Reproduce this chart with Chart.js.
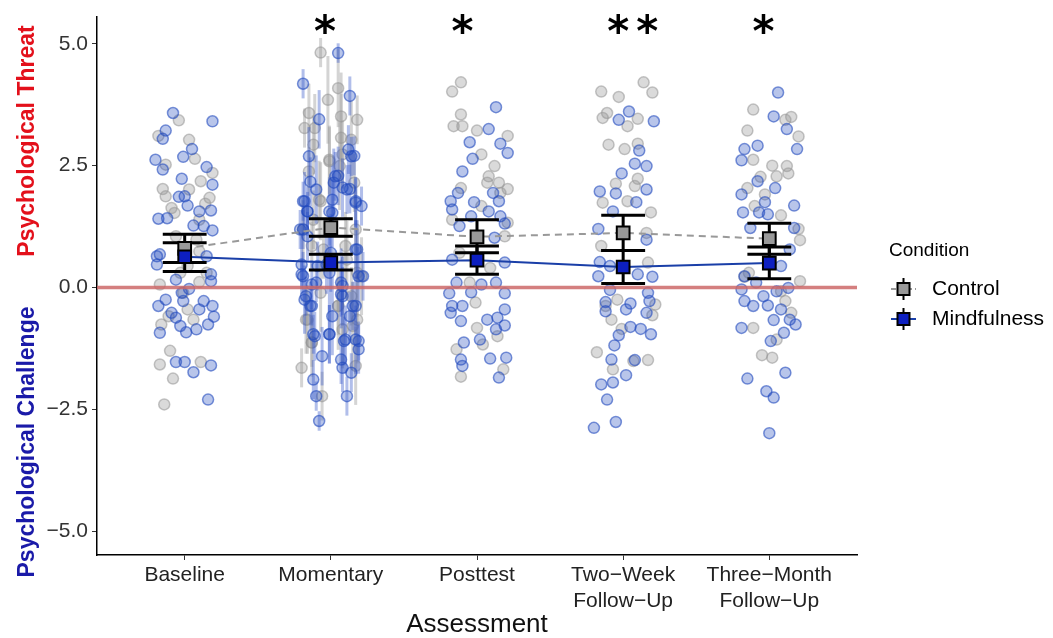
<!DOCTYPE html>
<html>
<head>
<meta charset="utf-8">
<script src="https://cdn.jsdelivr.net/npm/chart.js@4/dist/chart.umd.min.js"></script>
<style>
  body { margin: 0; background: #fff; }
  #wrap { width: 1053px; height: 638px; }
</style>
</head>
<body>
<div id="wrap"><canvas id="chart" width="1053" height="638"></canvas></div>
<script>
// categorias del eje x
const assessments = ["Baseline", "Momentary", "Posttest", ["Two\u2212Week", "Follow\u2212Up"], ["Three\u2212Month", "Follow\u2212Up"]];
const xTicks = [1, 2, 3, 4, 5];
const yTicks = [-5, -2.5, 0, 2.5, 5];

// medias e intervalos por condicion
const ctlMean = [0.80, 1.23, 1.04, 1.12, 1.00];
const ctlLo = [0.51, 1.05, 0.71, 0.76, 0.68];
const ctlHi = [1.09, 1.41, 1.39, 1.48, 1.32];
const mfnMean = [0.63, 0.51, 0.56, 0.42, 0.50];
const mfnLo = [0.33, 0.36, 0.27, 0.08, 0.18];
const mfnHi = [0.92, 0.68, 0.85, 0.76, 0.83];

// significancia
const stars = ["", "*", "*", "**", "*"];
const starX = [null, 1.96, 2.90, 4.065, 4.96];
const starY = 5.34;

// puntos individuales: [desplazamiento, valor]
const ctlBaseline = [[-0.04,3.43],[-0.18,3.11],[0.03,3.03],[0.07,2.64],[-0.13,2.52],[0.19,2.35],[0.11,2.18],[-0.15,2.02],[-0.13,1.87],[0.03,2.01],[0.17,1.84],[-0.09,1.63],[0.14,1.72],[-0.07,1.53],[0.10,1.39],[0.08,0.98],[0.10,0.74],[-0.17,0.06],[0.10,0.11],[-0.03,0.30],[0.02,-0.45],[0.06,-0.66],[-0.11,-0.59],[-0.16,-0.76],[-0.10,-1.30],[-0.17,-1.58],[0.11,-1.53],[-0.08,-1.87],[-0.14,-2.40],[-0.01,-0.11],[-0.06,1.05],[0.15,0.30],[0.02,0.44]];
const mfnBaseline = [[-0.08,3.58],[0.19,3.41],[-0.13,3.22],[-0.15,3.05],[0.05,2.84],[-0.01,2.68],[-0.20,2.62],[-0.15,2.42],[0.15,2.47],[-0.02,2.23],[0.19,2.11],[0.00,1.87],[-0.04,1.86],[0.02,1.68],[0.10,1.56],[0.18,1.58],[-0.18,1.41],[-0.12,1.42],[0.06,1.27],[0.13,1.26],[0.19,1.17],[-0.17,0.68],[-0.19,0.47],[0.15,0.64],[0.18,0.27],[0.18,0.13],[-0.06,0.16],[0.03,-0.03],[-0.13,-0.25],[-0.01,-0.28],[0.13,-0.28],[-0.18,-0.38],[0.19,-0.38],[0.10,-0.45],[-0.06,-0.62],[0.20,-0.60],[-0.03,-0.79],[0.16,-0.76],[-0.17,-0.93],[0.01,-0.92],[0.08,-0.86],[-0.06,-1.53],[0.00,-1.53],[0.06,-1.74],[0.18,-1.60],[0.16,-2.30],[-0.19,0.64],[-0.02,-0.11],[-0.09,-0.52]];

const ctlMomentary = [[-0.07,4.82],[0.05,4.09],[-0.02,3.85],[-0.15,3.58],[0.07,3.51],[0.18,3.44],[-0.18,3.27],[-0.11,3.27],[-0.12,2.93],[0.07,3.07],[0.14,3.03],[-0.01,2.59],[0.06,2.49],[-0.15,2.38],[0.16,2.15],[-0.07,1.77],[-0.20,-1.65],[0.08,2.73],[0.18,0.30],[0.11,0.57],[-0.05,0.78],[-0.16,-0.66],[0.18,-0.66],[-0.07,-0.11],[0.14,-0.18],[-0.13,-1.13],[0.17,-1.61],[-0.06,-2.23],[0.05,-0.38],[0.08,-0.86],[-0.12,1.39],
  [-0.01,2.62],[-0.08,1.80],[-0.19,1.19],[0.17,1.19],[-0.13,0.85],[0.10,0.85],[0.21,0.23],[0.05,-0.38],[-0.17,-0.66],[0.15,-0.79],[-0.13,-1.13]];
const ctlMomentarySd = [0.3,0.8,0.9,0.6,0.9,0.5,0.4,0.7,0.6,0.9,0.8,0.7,0.9,0.5,0.6,0.8,0.4,0.7,0.9,0.8,0.6,0.7,0.9,0.8,0.6,0.7,0.8,0.5,0.9,0.8,0.6,
  0.7,0.8,0.6,0.9,0.5,0.7,0.8,0.6,0.7,0.9,0.5];
const mfnMomentary = [[0.05,4.81],[-0.19,4.18],[0.13,3.93],[-0.08,3.45],[0.12,2.83],[0.16,2.70],[-0.14,2.17],[0.05,2.29],[0.02,2.15],[0.13,2.02],[0.08,2.05],[-0.19,1.77],[-0.16,1.56],[0.17,1.77],[0.21,1.67],[0.01,1.53],[-0.19,1.19],[0.17,0.78],[-0.20,0.27],[-0.13,0.06],[0.19,0.23],[0.07,0.10],[-0.01,0.30],[-0.17,-0.18],[-0.14,-0.38],[0.07,-0.14],[0.17,-0.38],[0.13,-0.59],[-0.12,-0.96],[-0.01,-0.96],[0.09,-1.10],[0.17,-1.07],[0.19,-1.27],[-0.06,-1.41],[0.07,-1.48],[0.14,-1.75],[0.08,-1.65],[-0.12,-1.89],[-0.10,-2.23],[0.11,-2.23],[-0.08,-2.74],[0.00,0.71],[-0.16,1.05],[-0.20,0.47],
  [-0.15,2.69],[0.03,2.28],[0.14,2.69],[-0.10,2.01],[0.11,2.01],[-0.18,1.77],[-0.16,1.56],[0.17,1.74],[-0.01,1.56],[0.18,0.78],[-0.19,0.23],[-0.10,0.10],[0.08,0.03],[0.22,0.23],[-0.18,-0.25],[-0.13,-0.38],[0.08,-0.18],[0.15,-0.38],[0.01,-0.59],[-0.11,-1.00],[-0.01,-0.96],[0.10,-1.07],[0.19,-1.10],[-0.09,0.44],[-0.03,0.47],[-0.21,1.19],[0.01,1.80]];
const mfnMomentarySd = [0.2,0.3,0.4,0.6,0.5,0.4,0.5,0.6,0.7,0.5,0.6,0.4,0.5,0.5,0.4,0.7,0.4,0.6,0.3,0.5,0.6,0.7,0.8,0.4,0.5,0.7,0.6,0.5,0.4,0.6,0.5,0.7,0.5,0.6,0.5,0.4,0.5,0.4,0.3,0.4,0.2,0.8,0.5,0.6,
  0.6,0.5,0.4,0.7,0.5,0.6,0.4,0.5,0.7,0.6,0.5,0.4,0.6,0.5,0.7,0.4,0.6,0.5,0.8,0.5,0.6,0.7,0.4,0.5,0.6,0.4,0.7];

const ctlPosttest = [[-0.11,4.21],[-0.17,4.02],[-0.11,3.55],[-0.16,3.31],[-0.10,3.31],[0.00,3.22],[0.21,3.11],[0.03,2.73],[0.12,2.49],[0.08,2.28],[0.15,2.15],[0.21,2.02],[-0.11,2.04],[0.07,2.15],[-0.17,1.39],[-0.12,0.71],[0.09,0.40],[-0.05,0.10],[-0.01,-0.31],[0.00,-0.83],[-0.14,-1.27],[0.04,-1.17],[-0.11,-1.83],[0.18,-1.68],[0.14,-1.00],[0.19,1.05],[0.21,1.33],[0.16,1.94],[0.03,1.67]];
const mfnPosttest = [[0.13,3.70],[0.08,3.25],[-0.05,2.98],[0.16,2.95],[0.21,2.76],[-0.03,2.64],[-0.10,2.38],[-0.13,1.94],[-0.18,1.77],[0.11,1.94],[0.15,1.77],[-0.02,1.75],[-0.17,1.60],[0.08,1.56],[0.16,1.46],[0.19,1.31],[-0.04,1.46],[-0.12,1.26],[0.12,1.02],[-0.17,0.57],[0.19,0.51],[-0.14,0.10],[0.03,0.06],[0.13,0.10],[-0.19,-0.12],[-0.04,-0.10],[0.19,-0.12],[-0.17,-0.38],[-0.10,-0.38],[-0.18,-0.52],[0.19,-0.45],[0.14,-0.62],[0.07,-0.66],[0.13,-0.86],[0.19,-0.78],[-0.11,-0.69],[0.02,-1.07],[-0.09,-1.13],[-0.11,-1.48],[0.09,-1.46],[0.20,-1.44],[-0.10,-1.61],[0.15,-1.85]];

const ctlTwoWeek = [[0.14,4.21],[-0.15,4.02],[-0.03,3.91],[0.20,4.00],[-0.11,3.58],[-0.14,3.48],[0.10,3.46],[0.03,3.31],[-0.10,2.93],[0.01,2.84],[0.10,2.95],[-0.05,2.13],[0.10,2.23],[0.08,2.08],[-0.14,1.74],[0.03,1.77],[0.19,1.54],[0.16,1.12],[-0.15,0.85],[0.17,0.51],[-0.04,-0.25],[0.22,-0.35],[0.20,-0.57],[-0.08,-0.66],[-0.01,-0.85],[-0.18,-1.33],[0.17,-1.49],[-0.07,-1.68],[0.07,-1.51],[-0.12,-0.38]];
const mfnTwoWeek = [[0.04,3.61],[-0.03,3.44],[0.21,3.41],[0.11,2.81],[0.08,2.54],[0.16,2.49],[-0.01,2.34],[-0.16,1.97],[-0.05,1.93],[0.16,2.01],[0.09,1.75],[-0.07,1.56],[-0.17,1.20],[0.16,0.98],[-0.16,0.52],[-0.09,0.44],[-0.17,0.23],[0.20,0.22],[0.10,0.27],[-0.09,-0.05],[0.17,-0.11],[0.18,-0.28],[-0.12,-0.30],[0.05,-0.33],[-0.12,-0.49],[0.02,-0.45],[0.16,-0.52],[0.05,-0.81],[0.12,-0.85],[0.19,-0.96],[-0.03,-0.98],[-0.06,-1.19],[-0.08,-1.48],[0.08,-1.49],[0.02,-1.80],[-0.15,-1.99],[-0.07,-1.95],[-0.11,-2.30],[-0.05,-2.76],[-0.20,-2.88],[0.00,0.44]];

const ctlThreeMonth = [[-0.11,3.65],[0.15,3.50],[0.11,3.44],[0.20,3.10],[-0.15,3.22],[-0.11,2.62],[0.02,2.50],[0.12,2.49],[0.13,2.34],[0.05,2.28],[-0.06,2.27],[-0.15,2.04],[-0.03,1.91],[-0.10,1.67],[0.08,1.48],[0.20,1.20],[0.21,0.97],[-0.17,0.22],[0.21,0.13],[0.08,-0.08],[0.15,-0.52],[-0.11,-0.83],[0.05,-1.07],[-0.05,-1.39],[0.02,-1.44],[0.11,-0.28],[-0.14,0.30]];
const mfnThreeMonth = [[0.06,4.00],[0.03,3.51],[0.12,3.25],[-0.17,2.84],[-0.08,2.91],[0.19,2.84],[-0.19,2.61],[-0.08,2.18],[0.04,2.04],[-0.19,1.91],[-0.03,1.75],[0.17,1.68],[-0.18,1.54],[-0.07,1.54],[-0.01,1.50],[-0.13,1.22],[0.17,1.22],[0.14,0.78],[0.08,0.44],[-0.17,0.23],[-0.09,0.10],[-0.19,-0.04],[-0.17,-0.28],[-0.04,-0.18],[0.05,-0.08],[0.13,-0.01],[-0.11,-0.38],[-0.01,-0.37],[0.08,-0.45],[0.14,-0.66],[0.18,-0.76],[0.03,-0.67],[-0.19,-0.83],[0.10,-0.93],[0.01,-1.10],[-0.15,-1.87],[0.11,-1.75],[-0.02,-2.13],[0.03,-2.26],[0.00,-2.99]];

const ctlPoints = [ctlBaseline, ctlMomentary, ctlPosttest, ctlTwoWeek, ctlThreeMonth];
const mfnPoints = [mfnBaseline, mfnMomentary, mfnPosttest, mfnTwoWeek, mfnThreeMonth];

function toXY(groups) {
  const out = [];
  groups.forEach((pts, i) => pts.forEach(p => out.push({ x: xTicks[i] + p[0], y: p[1] })));
  return out;
}
const meanXY = means => means.map((m, i) => ({ x: xTicks[i], y: m }));

const FONT = "'Liberation Sans', Arial, sans-serif";

// dibujos extra: lineas de sd, linea en cero, barras de error, estrellas, titulos, leyenda
const overlay = {
  id: "overlay",
  beforeDatasetDraw(chart, args) {
    const ctx = chart.ctx, xs = chart.scales.x, ys = chart.scales.y, a = chart.chartArea;
    if (args.index === 0 || args.index === 1) {
      const pts = args.index === 0 ? ctlMomentary : mfnMomentary;
      const sd = args.index === 0 ? ctlMomentarySd : mfnMomentarySd;
      ctx.save();
      ctx.strokeStyle = args.index === 0 ? "rgba(160,160,160,0.45)" : "rgba(50,85,200,0.38)";
      ctx.lineWidth = 3;
      pts.forEach((p, i) => {
        const x = xs.getPixelForValue(xTicks[1] + p[0]);
        ctx.beginPath();
        ctx.moveTo(x, ys.getPixelForValue(p[1] - sd[i]));
        ctx.lineTo(x, ys.getPixelForValue(p[1] + sd[i]));
        ctx.stroke();
      });
      ctx.restore();
    }
    if (args.index === 2) {
      const y0 = ys.getPixelForValue(0);
      ctx.save();
      ctx.strokeStyle = "rgba(205,105,105,0.85)";
      ctx.lineWidth = 3.5;
      ctx.beginPath();
      ctx.moveTo(a.left, y0);
      ctx.lineTo(a.right, y0);
      ctx.stroke();
      ctx.restore();
    }
    if (args.index === 4) {
      ctx.save();
      ctx.strokeStyle = "#000";
      ctx.lineWidth = 3;
      [[ctlLo, ctlHi], [mfnLo, mfnHi]].forEach(([lo, hi]) => {
        xTicks.forEach((xv, i) => {
          const x = xs.getPixelForValue(xv);
          const w = xs.getPixelForValue(xv + 0.15) - x;
          const yl = ys.getPixelForValue(lo[i]), yh = ys.getPixelForValue(hi[i]);
          ctx.beginPath();
          ctx.moveTo(x, yl); ctx.lineTo(x, yh);
          ctx.moveTo(x - w, yl); ctx.lineTo(x + w, yl);
          ctx.moveTo(x - w, yh); ctx.lineTo(x + w, yh);
          ctx.stroke();
        });
      });
      ctx.restore();
    }
  },
  afterDraw(chart) {
    const ctx = chart.ctx, xs = chart.scales.x, ys = chart.scales.y;
    ctx.save();
    // estrellas
    ctx.fillStyle = "#000";
    ctx.font = "bold 42px 'DejaVu Sans', sans-serif";
    ctx.textAlign = "center";
    ctx.textBaseline = "middle";
    stars.forEach((s, i) => {
      if (!s) return;
      const cx = xs.getPixelForValue(starX[i]);
      const cy = ys.getPixelForValue(starY);
      for (let k = 0; k < s.length; k++) {
        ctx.fillText(s[k], cx + (k - (s.length - 1) / 2) * 29, cy + 8);
      }
    });
    // titulos del eje y
    ctx.save();
    ctx.translate(28, 0);
    ctx.rotate(-Math.PI / 2);
    ctx.font = "bold 23px " + FONT;
    ctx.textAlign = "center";
    ctx.textBaseline = "middle";
    ctx.fillStyle = "#e3101b";
    ctx.fillText("Psychological Threat", -141, 0);
    ctx.fillStyle = "#1a1aa8";
    ctx.fillText("Psychological Challenge", -442, 0);
    ctx.restore();
    // leyenda
    ctx.textAlign = "left";
    ctx.textBaseline = "middle";
    ctx.fillStyle = "#000";
    ctx.font = "19px " + FONT;
    ctx.fillText("Condition", 889, 251);
    const keys = [
      { label: "Control", y: 289, line: "#999", dash: [5, 3], fill: "#999" },
      { label: "Mindfulness", y: 319, line: "#1a3fa8", dash: [], fill: "#0d1fc0" }
    ];
    keys.forEach(k => {
      ctx.strokeStyle = k.line;
      ctx.lineWidth = 2;
      ctx.setLineDash(k.dash);
      ctx.beginPath(); ctx.moveTo(891, k.y); ctx.lineTo(916, k.y); ctx.stroke();
      ctx.setLineDash([]);
      ctx.strokeStyle = "#000";
      ctx.beginPath(); ctx.moveTo(903.5, k.y - 11); ctx.lineTo(903.5, k.y + 11); ctx.stroke();
      ctx.fillStyle = k.fill;
      ctx.fillRect(897.5, k.y - 6, 12, 12);
      ctx.strokeRect(897.5, k.y - 6, 12, 12);
      ctx.fillStyle = "#000";
      ctx.font = "21px " + FONT;
      ctx.fillText(k.label, 932, k.y);
    });
    ctx.restore();
  }
};

const ctx = document.getElementById("chart").getContext("2d");
const chart = new Chart(ctx, {
  type: "scatter",
  data: {
    datasets: [
      {
        label: "Control puntos", data: toXY(ctlPoints), order: 6,
        pointRadius: 5.5, pointBorderWidth: 1.5,
        backgroundColor: "rgba(150,150,150,0.35)", borderColor: "rgba(150,150,150,0.55)"
      },
      {
        label: "Mindfulness puntos", data: toXY(mfnPoints), order: 5,
        pointRadius: 5.5, pointBorderWidth: 1.5,
        backgroundColor: "rgba(35,75,190,0.32)", borderColor: "rgba(35,75,190,0.6)"
      },
      {
        label: "Control linea", data: meanXY(ctlMean), order: 4, showLine: true,
        pointRadius: 0, borderColor: "#999", borderWidth: 2, borderDash: [7, 5]
      },
      {
        label: "Mindfulness linea", data: meanXY(mfnMean), order: 3, showLine: true,
        pointRadius: 0, borderColor: "#1a3fa8", borderWidth: 2
      },
      {
        label: "Control", data: meanXY(ctlMean), order: 2,
        pointStyle: "rect", pointRadius: 9, pointBorderWidth: 2,
        backgroundColor: "#999", borderColor: "#000"
      },
      {
        label: "Mindfulness", data: meanXY(mfnMean), order: 1,
        pointStyle: "rect", pointRadius: 9, pointBorderWidth: 2,
        backgroundColor: "#0d1fc0", borderColor: "#000"
      }
    ]
  },
  options: {
    responsive: false,
    animation: false,
    devicePixelRatio: 1,
    layout: { padding: { left: 0, right: 196, top: 17, bottom: 0 } },
    plugins: { legend: { display: false }, tooltip: { enabled: false } },
    scales: {
      x: {
        type: "linear", min: 0.4, max: 5.6,
        afterBuildTicks: s => { s.ticks = xTicks.map(v => ({ value: v })); },
        afterFit: s => { s.height = 83; },
        ticks: {
          callback: v => assessments[v - 1],
          color: "#222", padding: 3,
          font: { family: FONT, size: 21, lineHeight: 1.2 },
          maxRotation: 0, autoSkip: false
        },
        grid: { display: true, drawOnChartArea: false, drawTicks: true, tickLength: 5, color: "#333" },
        border: { display: true, color: "#000", width: 1.5 },
        title: {
          display: true, text: "Assessment", color: "#111",
          font: { family: FONT, size: 26, lineHeight: 1.0 }, padding: 0
        }
      },
      y: {
        min: -5.49, max: 5.55,
        afterBuildTicks: s => { s.ticks = yTicks.map(v => ({ value: v })); },
        afterFit: s => { s.width = 97; },
        ticks: {
          callback: v => v.toFixed(1).replace("-", "\u2212"),
          color: "#333", padding: 4,
          font: { family: FONT, size: 21 }
        },
        grid: { display: true, drawOnChartArea: false, drawTicks: true, tickLength: 5, color: "#333" },
        border: { display: true, color: "#000", width: 1.5 }
      }
    }
  },
  plugins: [overlay]
});
</script>
</body>
</html>
